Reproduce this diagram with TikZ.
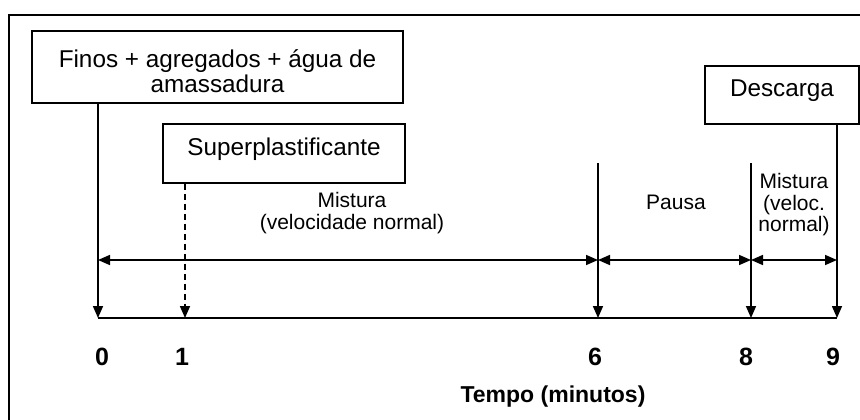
\documentclass[tikz,border=0pt]{standalone}
\usepackage{fontspec}
\setmainfont{Liberation Sans}
\usetikzlibrary{arrows.meta}
\begin{document}
\begin{tikzpicture}[x=1pt,y=-1pt,
  line width=1.6pt,
  box/.style={draw, line width=1.4pt, inner sep=0pt, font=\fontsize{24.3}{24.5}\selectfont, align=center},
  onebox/.style={box, text depth=14pt},
  lab/.style={font=\fontsize{21}{21.5}\selectfont, align=center, inner sep=0pt},
  ticklab/.style={font=\bfseries\fontsize{25}{25}\selectfont, inner sep=0pt},
  titlelab/.style={font=\bfseries\fontsize{23}{24}\selectfont, inner sep=0pt},
  arr/.style={-{Triangle[length=12pt,width=10pt]}},
  dbl/.style={{Triangle[length=12pt,width=10pt]}-{Triangle[length=12pt,width=10pt]}},
]
\useasboundingbox (0,0) rectangle (860,420);
\begin{scope}
\clip (0,0) rectangle (860,420);
\draw[line width=1.5pt] (9,440) -- (9,15) -- (880,15);
\end{scope}

% boxes
\node[box, minimum width=371pt, minimum height=72pt] (b1) at (217.5,67)
  {\raisebox{0pt}[26pt][0pt]{}Finos + agregados + água de\\amassadura};
\node[onebox, minimum width=242pt, minimum height=59pt] (b2) at (284,153.5) {Superplastificante};
\node[onebox, minimum width=154pt, minimum height=58pt] (b3) at (782,95) {Descarga};

% axis points
\coordinate (t0) at (98,318);
\coordinate (t1) at (185,318);
\coordinate (t6) at (598,318);
\coordinate (t8) at (751,318);
\coordinate (t9) at (837,318);
\coordinate (s6) at (598,163);
\coordinate (s8) at (751,163);
\coordinate (h0) at (98,260);
\coordinate (h6) at (598,260);
\coordinate (h8) at (751,260);
\coordinate (h9) at (837,260);

% vertical arrows
\draw[arr] (b1.south -| t0) -- (t0);
\draw[arr, dash pattern=on 6pt off 4pt] (b2.south -| t1) -- (t1);
\draw[arr] (s6) -- (t6);
\draw[arr] (s8) -- (t8);
\draw[arr] (b3.south -| t9) -- (t9);

% axis
\draw (t0) -- (t9);

% interval arrows
\draw[dbl] (h0) -- (h6);
\draw[dbl] (h6) -- (h8);
\draw[dbl] (h8) -- (h9);

% labels
\node[lab] (m1) at (352,213) {Mistura\\(velocidade normal)};
\node[lab] (pa) at (676,202) {Pausa};
\node[lab] (m2) at (794,205) {Mistura\\(veloc.\\normal)};

% tick numbers
\node[ticklab] (n0) at (102,357) {0};
\node[ticklab] (n1) at (182,357) {1};
\node[ticklab] (n6) at (595,357) {6};
\node[ticklab] (n8) at (746,357) {8};
\node[ticklab] (n9) at (833,357) {9};
\node[titlelab] (tt) at (553,397) {Tempo (minutos)};
\end{tikzpicture}
\end{document}
